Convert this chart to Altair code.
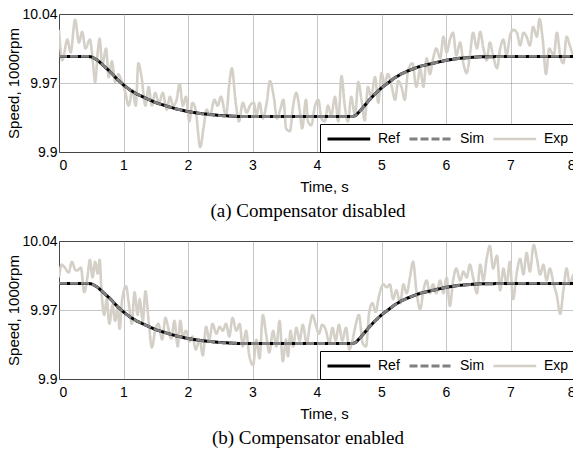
import altair as alt
import pandas as pd

# ---- data ----
ref_t = [0.0, 0.45, 0.5, 0.55, 0.6, 0.65, 0.7, 0.75, 0.8, 0.9, 1.0, 1.1, 1.2, 1.3, 1.4, 1.5, 1.6,
         1.8, 2.0, 2.2, 2.5, 2.8, 3.2, 4.55, 4.6, 4.7, 4.8, 4.9, 5.0, 5.1, 5.2, 5.3, 5.4, 5.6,
         5.8, 6.0, 6.2, 6.5, 7.0, 8.0]
ref_v = [9.997, 9.997, 9.9965, 9.995, 9.993, 9.990, 9.987, 9.984, 9.981, 9.974, 9.968, 9.963,
         9.959, 9.956, 9.953, 9.950, 9.948, 9.944, 9.941, 9.939, 9.937, 9.936, 9.936, 9.936,
         9.937, 9.944, 9.952, 9.959, 9.965, 9.970, 9.975, 9.979, 9.982, 9.987, 9.990, 9.993,
         9.995, 9.9965, 9.997, 9.997]
sim_t = ref_t
sim_v = ref_v

exp_a = [(0.00, 10.024), (0.05, 9.993), (0.13, 10.014), (0.18, 10.001), (0.25, 10.034), (0.31, 10.011),
         (0.36, 10.022), (0.41, 10.005), (0.48, 10.014), (0.52, 9.995), (0.56, 9.971), (0.60, 10.001),
         (0.63, 10.015), (0.67, 9.988), (0.73, 10.005), (0.77, 9.976), (0.82, 9.992), (0.87, 9.971),
         (0.92, 9.979), (0.97, 9.972), (1.03, 9.960), (1.08, 9.947), (1.14, 9.963), (1.19, 9.947),
         (1.23, 9.990), (1.28, 9.976), (1.34, 9.947), (1.39, 9.966), (1.44, 9.947), (1.49, 9.960),
         (1.55, 9.950), (1.61, 9.960), (1.67, 9.943), (1.72, 9.956), (1.77, 9.947), (1.82, 9.952),
         (1.87, 9.969), (1.92, 9.947), (1.97, 9.956), (2.02, 9.931), (2.07, 9.950), (2.12, 9.942),
         (2.19, 9.905), (2.24, 9.924), (2.29, 9.943), (2.34, 9.937), (2.41, 9.953), (2.46, 9.947),
         (2.51, 9.956), (2.59, 9.937), (2.64, 9.969), (2.68, 9.985), (2.74, 9.950), (2.79, 9.931),
         (2.85, 9.950), (2.91, 9.940), (2.96, 9.947), (3.02, 9.950), (3.06, 9.937), (3.11, 9.950),
         (3.16, 9.934), (3.22, 9.950), (3.27, 9.972), (3.33, 9.956), (3.38, 9.934), (3.43, 9.943),
         (3.48, 9.953), (3.52, 9.924), (3.58, 9.921), (3.63, 9.947), (3.68, 9.960), (3.73, 9.943),
         (3.77, 9.924), (3.83, 9.953), (3.86, 9.931), (3.91, 9.927), (3.97, 9.947), (4.02, 9.953),
         (4.07, 9.934), (4.12, 9.931), (4.17, 9.947), (4.22, 9.937), (4.28, 9.956), (4.33, 9.931),
         (4.38, 9.977), (4.43, 9.947), (4.48, 9.931), (4.53, 9.956), (4.59, 9.937), (4.64, 9.971),
         (4.69, 9.953), (4.74, 9.932), (4.79, 9.966), (4.84, 9.956), (4.90, 9.976), (4.95, 9.950),
         (5.00, 9.980), (5.05, 9.969), (5.10, 9.979), (5.16, 9.966), (5.21, 9.953), (5.26, 9.972),
         (5.31, 9.966), (5.36, 9.953), (5.41, 9.982), (5.48, 9.990), (5.54, 9.966), (5.60, 9.984),
         (5.65, 9.966), (5.70, 9.995), (5.75, 9.979), (5.80, 9.995), (5.85, 10.005), (5.91, 9.995),
         (5.96, 10.017), (6.01, 10.001), (6.06, 10.014), (6.11, 10.021), (6.16, 9.998), (6.22, 10.011),
         (6.27, 9.990), (6.32, 9.980), (6.37, 9.998), (6.42, 10.021), (6.48, 10.005), (6.53, 10.022),
         (6.58, 10.005), (6.63, 9.993), (6.68, 10.011), (6.73, 9.998), (6.79, 9.985), (6.84, 10.005),
         (6.89, 10.014), (6.94, 9.998), (6.99, 10.017), (7.04, 10.024), (7.10, 10.021), (7.15, 10.008),
         (7.20, 10.021), (7.25, 10.017), (7.30, 10.008), (7.35, 10.027), (7.41, 10.017), (7.45, 10.035),
         (7.50, 10.014), (7.55, 9.979), (7.60, 10.005), (7.67, 9.998), (7.72, 10.021), (7.77, 9.998),
         (7.82, 9.990), (7.87, 10.017), (7.92, 10.008), (7.98, 9.998), (8.00, 10.001)]

exp_b = [(0.00, 10.003), (0.04, 10.016), (0.09, 10.013), (0.15, 10.008), (0.20, 10.019), (0.25, 10.011),
         (0.28, 10.010), (0.34, 10.013), (0.39, 9.988), (0.44, 10.003), (0.48, 10.021), (0.52, 10.003),
         (0.56, 10.019), (0.60, 10.007), (0.63, 10.021), (0.66, 9.988), (0.70, 9.965), (0.74, 9.981),
         (0.78, 9.956), (0.83, 9.975), (0.87, 9.959), (0.91, 9.972), (0.94, 9.951), (0.98, 9.981),
         (1.04, 9.994), (1.08, 9.978), (1.13, 9.956), (1.17, 9.988), (1.22, 9.965), (1.25, 9.981),
         (1.30, 9.959), (1.34, 9.989), (1.39, 9.959), (1.44, 9.932), (1.49, 9.949), (1.54, 9.956),
         (1.60, 9.940), (1.65, 9.962), (1.68, 9.956), (1.74, 9.941), (1.79, 9.959), (1.84, 9.933),
         (1.88, 9.959), (1.92, 9.943), (1.97, 9.949), (2.02, 9.938), (2.07, 9.943), (2.12, 9.930),
         (2.18, 9.940), (2.23, 9.924), (2.28, 9.953), (2.33, 9.940), (2.38, 9.956), (2.44, 9.946),
         (2.49, 9.953), (2.54, 9.949), (2.59, 9.956), (2.64, 9.943), (2.69, 9.962), (2.75, 9.949),
         (2.80, 9.956), (2.85, 9.933), (2.90, 9.949), (2.95, 9.924), (3.01, 9.914), (3.06, 9.940),
         (3.11, 9.921), (3.16, 9.965), (3.21, 9.946), (3.26, 9.927), (3.32, 9.949), (3.37, 9.933),
         (3.42, 9.959), (3.47, 9.918), (3.52, 9.940), (3.55, 9.923), (3.59, 9.949), (3.63, 9.933),
         (3.68, 9.952), (3.73, 9.939), (3.78, 9.955), (3.84, 9.936), (3.89, 9.955), (3.93, 9.965),
         (3.98, 9.955), (4.03, 9.946), (4.08, 9.955), (4.14, 9.949), (4.19, 9.936), (4.24, 9.952),
         (4.29, 9.939), (4.34, 9.955), (4.39, 9.939), (4.45, 9.952), (4.50, 9.930), (4.55, 9.939),
         (4.60, 9.955), (4.65, 9.965), (4.71, 9.936), (4.76, 9.933), (4.81, 9.968), (4.86, 9.977),
         (4.91, 9.968), (4.96, 9.984), (5.03, 9.996), (5.08, 9.993), (5.13, 9.996), (5.18, 9.981),
         (5.23, 9.990), (5.29, 9.977), (5.34, 9.996), (5.39, 9.987), (5.44, 10.003), (5.49, 10.019),
         (5.54, 9.990), (5.60, 9.971), (5.65, 9.990), (5.70, 10.000), (5.75, 9.987), (5.80, 9.996),
         (5.85, 9.987), (5.91, 10.000), (5.96, 9.987), (6.01, 10.003), (6.06, 9.974), (6.11, 10.000),
         (6.16, 10.012), (6.22, 10.000), (6.27, 10.009), (6.32, 10.003), (6.37, 10.016), (6.42, 10.003),
         (6.48, 9.987), (6.53, 10.016), (6.58, 10.000), (6.63, 10.022), (6.68, 10.035), (6.73, 10.012),
         (6.79, 10.025), (6.84, 9.990), (6.89, 10.012), (6.94, 9.996), (6.99, 10.019), (7.04, 9.981),
         (7.10, 10.009), (7.15, 10.022), (7.20, 10.006), (7.25, 10.028), (7.30, 10.009), (7.36, 10.036),
         (7.41, 10.022), (7.46, 10.006), (7.51, 10.016), (7.56, 10.000), (7.61, 10.012), (7.67, 9.996),
         (7.72, 9.984), (7.77, 9.966), (7.82, 9.990), (7.87, 10.012), (7.92, 9.996), (7.98, 10.006),
         (8.00, 9.996)]

series_names = ["Ref", "Sim", "Exp"]
series_colors = ["#000000", "#808080", "#d4d0c8"]
series_dash = [[1, 0], [8, 3], [1, 0]]
series_width = [3, 2.6, 3.8]
x_ticks = [0, 1, 2, 3, 4, 5, 6, 7, 8]
y_ticks = [9.9, 9.97, 10.04]
captions = ["(a) Compensator disabled", "(b) Compensator enabled"]


def frame(exp):
    rows = []
    for t, v in zip(ref_t, ref_v):
        rows.append({"t": t, "v": v, "series": "Ref"})
    for t, v in zip(sim_t, sim_v):
        rows.append({"t": t, "v": v, "series": "Sim"})
    for t, v in exp:
        rows.append({"t": t, "v": v, "series": "Exp"})
    return pd.DataFrame(rows)


FONT = "Liberation Sans"
# long horizontal line used as legend key (drawn from the left edge of the symbol cell)
LEGEND_LINE = "M-1,0L4.7,0"
PLOT_W = 516


def panel(exp, caption):
    df = frame(exp)
    x = alt.X("t:Q", scale=alt.Scale(domain=[0, 8], nice=False),
              axis=alt.Axis(values=x_ticks, title="Time, s", titleX=PLOT_W / 2 + 7, labelPadding=6,
                            titlePadding=7, format="d"))
    y = alt.Y("v:Q", scale=alt.Scale(domain=[9.9, 10.04], nice=False, zero=False),
              axis=alt.Axis(values=y_ticks, title="Speed, 1000rpm", format=".2~f",
                            labelPadding=2, titlePadding=0))
    color = alt.Color("series:N", scale=alt.Scale(domain=series_names, range=series_colors),
                      legend=alt.Legend(title=None, orient="bottom-right", direction="horizontal",
                                        offset=0, fillColor="white", strokeColor="black",
                                        padding=6, symbolType=LEGEND_LINE, symbolSize=225,
                                        labelFontSize=14, labelFont=FONT, labelOffset=34,
                                        columnPadding=3, labelColor="black"))
    dash = alt.StrokeDash("series:N", scale=alt.Scale(domain=series_names, range=series_dash),
                          legend=alt.Legend(title=None))
    width = alt.StrokeWidth("series:N", scale=alt.Scale(domain=series_names, range=series_width),
                            legend=alt.Legend(title=None))
    layers = []
    for s in ["Exp", "Ref", "Sim"]:
        interp = "monotone" if s == "Exp" else "linear"
        layers.append(
            alt.Chart(df).transform_filter(alt.datum.series == s)
            .mark_line(clip=True, strokeCap="butt", interpolate=interp)
            .encode(x=x, y=y, color=color, strokeDash=dash, strokeWidth=width, order="t:Q")
        )
    return alt.layer(*layers).properties(
        width=PLOT_W, height=138,
        title=alt.TitleParams(caption, orient="bottom", font="Liberation Serif", fontSize=19,
                              fontWeight="normal", color="black", anchor="middle",
                              frame="group", dx=-9, offset=8),
    )


chart = alt.vconcat(panel(exp_a, captions[0]), panel(exp_b, captions[1]), spacing=11).resolve_scale(
    color="independent", strokeDash="independent", strokeWidth="independent"
).resolve_legend(color="independent", strokeDash="independent", strokeWidth="independent").properties(
    padding={"left": -2, "top": -2, "right": -3, "bottom": 0}, background="white"
).configure_view(stroke="black", strokeWidth=1).configure_axis(
    labelFont=FONT, labelFontSize=14, labelColor="black", titleFont=FONT, titleFontSize=15,
    titleFontWeight="normal", titleColor="black", ticks=False, domain=False, grid=True,
    gridColor="#8c8c8c", gridDash=[1, 1], gridWidth=1
)

chart.save("out.html", embed_options={"renderer": "svg", "actions": False})
